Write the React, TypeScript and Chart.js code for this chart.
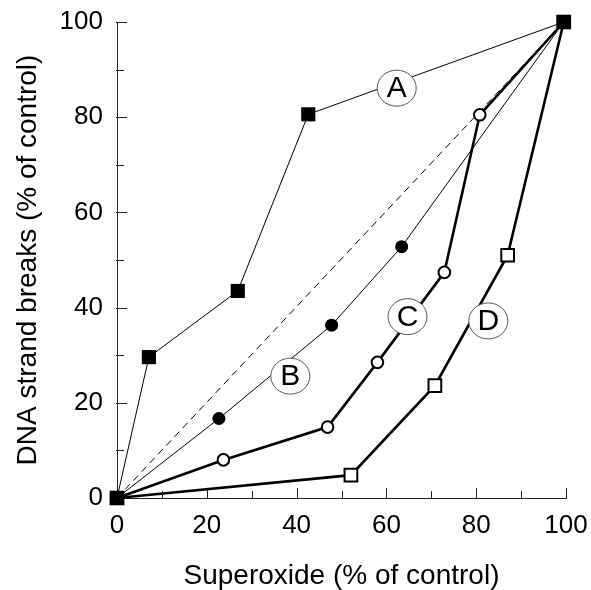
import React, { useEffect, useRef } from "react";
import { Chart, registerables } from "chart.js";

Chart.register(...registerables);

const FONT = "'Liberation Sans', Arial, Helvetica, sans-serif";

// Curve A (filled squares, thin line)
const aX = [0, 7.1, 26.9, 42.6, 99.5];
const aY = [0, 29.6, 43.5, 80.6, 100];
// Curve B (filled circles, thin line)
const bX = [0, 22.7, 47.8, 63.4, 99.5];
const bY = [0, 16.7, 36.3, 52.8, 100];
// Curve C (open circles, thick line)
const cX = [0, 23.7, 46.9, 58.0, 72.9, 80.8, 99.5];
const cY = [0, 8.0, 14.9, 28.5, 47.4, 80.5, 100];
// Curve D (open squares, thick line)
const dX = [0, 52.1, 70.8, 87.0, 99.5];
const dY = [0, 4.8, 23.6, 51.0, 100];
// Dashed identity line
const idX = [0, 99.5];
const idY = [0, 100];

// Callout labels
const labelText = ["A", "B", "C", "D"];
const labelX = [62.3, 38.6, 64.7, 82.7];
const labelY = [86.1, 25.6, 38.1, 37.2];

// Axis ticks
const tickValues = [0, 10, 20, 30, 40, 50, 60, 70, 80, 90, 100];
const labeledStep = 20;

const toPts = (xs: number[], ys: number[]) => xs.map((x, i) => ({ x, y: ys[i] }));

const inwardTicks = {
  id: "inwardTicks",
  beforeDatasetsDraw(chart: any) {
    const { ctx, chartArea, scales } = chart;
    const x = scales.x;
    const y = scales.y;
    ctx.save();
    ctx.strokeStyle = "#222";
    ctx.lineWidth = 1;
    for (const v of tickValues) {
      const len = v % labeledStep === 0 ? 10 : 7;
      const px = Math.round(x.getPixelForValue(v)) + 0.5;
      ctx.beginPath();
      ctx.moveTo(px, chartArea.bottom);
      ctx.lineTo(px, chartArea.bottom - len);
      ctx.stroke();
      const py = Math.round(y.getPixelForValue(v)) + 0.5;
      ctx.beginPath();
      ctx.moveTo(chartArea.left - 1, py);
      ctx.lineTo(chartArea.left + len, py);
      ctx.stroke();
    }
    ctx.restore();
  },
};

const callouts = {
  id: "callouts",
  afterDatasetsDraw(chart: any) {
    const { ctx, scales } = chart;
    ctx.save();
    labelText.forEach((t, i) => {
      const cx = scales.x.getPixelForValue(labelX[i]);
      const cy = scales.y.getPixelForValue(labelY[i]);
      ctx.beginPath();
      ctx.ellipse(cx, cy, 19.5, 18, 0, 0, Math.PI * 2);
      ctx.fillStyle = "#fff";
      ctx.fill();
      ctx.strokeStyle = "#555";
      ctx.lineWidth = 1;
      ctx.stroke();
      ctx.fillStyle = "#000";
      ctx.font = `30px ${FONT}`;
      ctx.textAlign = "center";
      ctx.textBaseline = "middle";
      ctx.fillText(t, cx, cy + 1);
    });
    ctx.restore();
  },
};

const zeroPad = (scale: any) => {
  scale.paddingTop = 0;
  scale.paddingBottom = 0;
  scale.paddingLeft = 0;
  scale.paddingRight = 0;
};

export default function App() {
  const ref = useRef<HTMLCanvasElement | null>(null);
  useEffect(() => {
    document.body.style.margin = "0";
    if (!ref.current) return;
    const base = {
      showLine: true,
      borderColor: "#000",
      pointBorderColor: "#000",
      clip: false as any,
      tension: 0,
    };
    const chart = new Chart(ref.current, {
      type: "scatter",
      data: {
        datasets: [
          {
            ...base,
            label: "A",
            data: toPts(aX, aY),
            borderWidth: 1,
            pointStyle: "rect",
            pointRadius: 10,
            pointBackgroundColor: "#000",
            pointBorderWidth: 0,
          },
          {
            ...base,
            label: "B",
            data: toPts(bX, bY),
            borderWidth: 1,
            pointStyle: "circle",
            pointRadius: 6.5,
            pointBackgroundColor: "#000",
            pointBorderWidth: 0,
          },
          {
            ...base,
            label: "C",
            data: toPts(cX, cY),
            borderWidth: 2.6,
            pointStyle: "circle",
            pointRadius: 5.8,
            pointBackgroundColor: "#fff",
            pointBorderWidth: 2,
          },
          {
            ...base,
            label: "D",
            data: toPts(dX, dY),
            borderWidth: 2.6,
            pointStyle: "rect",
            pointRadius: 9,
            pointBackgroundColor: "#fff",
            pointBorderWidth: 2,
          },
          {
            ...base,
            label: "identity",
            data: toPts(idX, idY),
            borderWidth: 1,
            borderDash: [7, 5],
            pointRadius: 0,
          },
        ],
      },
      options: {
        animation: false,
        responsive: false,
        devicePixelRatio: 1,
        layout: { padding: { top: 22, right: 25, left: 0, bottom: 0 } },
        plugins: {
          legend: { display: false },
          tooltip: { enabled: false },
        },
        scales: {
          x: {
            type: "linear",
            min: 0,
            max: 100,
            grid: { display: false, drawTicks: false },
            border: { display: true, color: "#222", width: 1 },
            ticks: {
              stepSize: 20,
              color: "#000",
              padding: 12,
              maxRotation: 0,
              font: { family: FONT, size: 26 },
            },
            title: {
              display: true,
              text: "Superoxide (% of control)",
              color: "#000",
              font: { family: FONT, size: 28, lineHeight: 1 },
              padding: { top: 0, bottom: 0 },
            },
            afterFit(scale: any) {
              scale.height = 92;
              zeroPad(scale);
            },
          },
          y: {
            type: "linear",
            min: 0,
            max: 100,
            grid: { display: false, drawTicks: false },
            border: { display: true, color: "#222", width: 1 },
            ticks: {
              stepSize: 20,
              color: "#000",
              padding: 14,
              font: { family: FONT, size: 26 },
            },
            title: {
              display: true,
              text: "DNA strand breaks (% of control)",
              color: "#000",
              font: { family: FONT, size: 28, lineHeight: 1 },
              padding: { top: 14, bottom: 0 },
            },
            afterFit(scale: any) {
              scale.width = 117;
              zeroPad(scale);
            },
          },
        },
      },
      plugins: [inwardTicks, callouts],
    });
    return () => chart.destroy();
  }, []);
  return (
    <div style={{ position: "absolute", left: 0, top: 0, width: 591, height: 590 }}>
      <canvas ref={ref} width={591} height={590} style={{ display: "block" }} />
    </div>
  );
}
